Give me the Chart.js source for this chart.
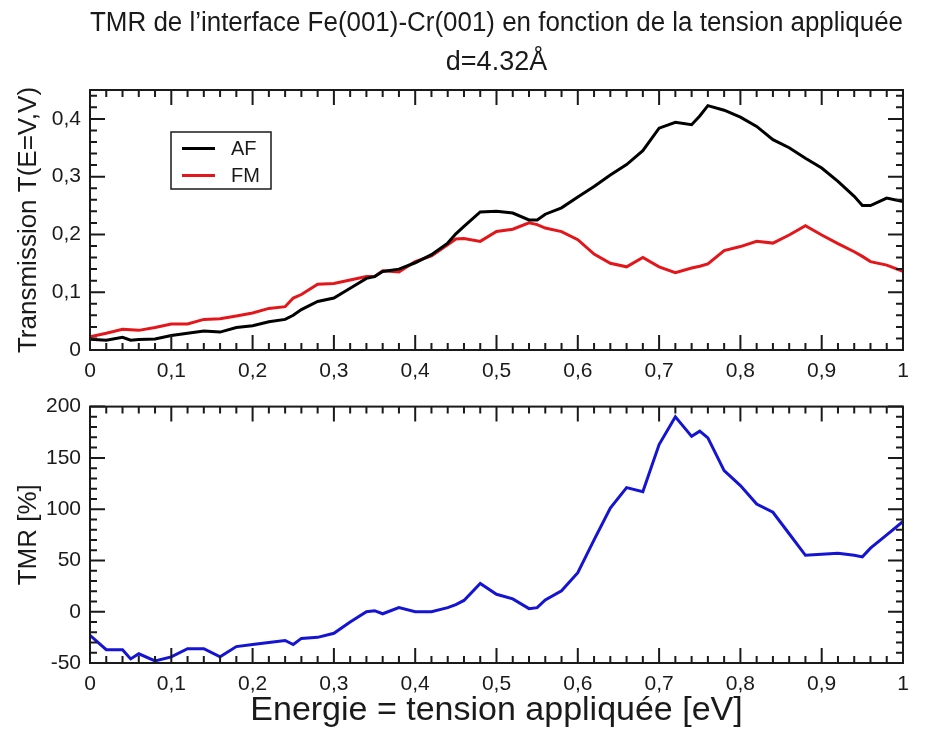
<!DOCTYPE html>
<html>
<head>
<meta charset="utf-8">
<script src="https://cdn.jsdelivr.net/npm/chart.js@4.4.0/dist/chart.umd.min.js"></script>
<style>
  html, body { margin: 0; padding: 0; background: #fff; }
  #wrap { position: relative; width: 929px; height: 731px; }
  canvas { position: absolute; left: 0; }
  #graficoT { top: 0; }
  #graficoTMR { top: 385px; }
</style>
</head>
<body>
<div id="wrap">
  <canvas id="graficoT" width="929" height="385"></canvas>
  <canvas id="graficoTMR" width="929" height="346"></canvas>
</div>
<script>
// Energie (eV) = tension appliquée
const energie = [0, 0.02, 0.04, 0.05, 0.06, 0.08, 0.1, 0.12, 0.14, 0.16, 0.18, 0.2, 0.22, 0.24, 0.25, 0.26, 0.28, 0.3,
  0.32, 0.34, 0.35, 0.36, 0.38, 0.4, 0.42, 0.44, 0.45, 0.46, 0.48, 0.5, 0.52, 0.54, 0.55, 0.56, 0.58, 0.6,
  0.62, 0.64, 0.66, 0.68, 0.7, 0.72, 0.74, 0.75, 0.76, 0.78, 0.8, 0.82, 0.84, 0.86, 0.88, 0.9,
  0.92, 0.94, 0.95, 0.96, 0.98, 1.0];

// Transmission T(E=V,V), configuration antiferro (AF)
const transAF = [0.0185, 0.017, 0.022, 0.017, 0.018, 0.019, 0.025, 0.029, 0.033, 0.031, 0.039, 0.042, 0.049, 0.053, 0.060, 0.070, 0.084, 0.090,
  0.107, 0.124, 0.127, 0.136, 0.140, 0.151, 0.165, 0.185, 0.201, 0.214, 0.239, 0.240, 0.237, 0.225, 0.225, 0.235, 0.246, 0.265,
  0.283, 0.303, 0.321, 0.345, 0.384, 0.394, 0.390, 0.405, 0.423, 0.415, 0.403, 0.387, 0.364, 0.350, 0.332, 0.315,
  0.292, 0.266, 0.250, 0.250, 0.263, 0.257];

// Transmission T(E=V,V), configuration ferro (FM)
const transFM = [0.023, 0.029, 0.036, 0.035, 0.034, 0.039, 0.045, 0.045, 0.053, 0.054, 0.059, 0.064, 0.072, 0.075, 0.090, 0.096, 0.114, 0.115,
  0.121, 0.127, 0.127, 0.137, 0.135, 0.153, 0.163, 0.182, 0.192, 0.193, 0.188, 0.205, 0.209, 0.220, 0.217, 0.211, 0.205, 0.191,
  0.166, 0.150, 0.144, 0.160, 0.144, 0.134, 0.142, 0.145, 0.149, 0.172, 0.179, 0.188, 0.185, 0.199, 0.215, 0.199,
  0.184, 0.170, 0.162, 0.153, 0.147, 0.136];

// TMR [%]
const tmr = [-23, -37, -37, -46, -41, -48, -44, -36, -36, -44, -34, -32, -30, -28, -32, -26, -25, -21,
  -10, 0, 1, -2, 4, 0, 0, 4, 7, 11, 27.5, 17, 12.5, 3, 4, 11.5, 20.5, 38,
  70, 101, 121, 117, 163, 190, 171, 176, 169.5, 137.5, 123, 105, 97, 76, 55, 56,
  57, 55, 53.5, 62, 75, 88];

const FONTE = "'Liberation Sans', Arial, Helvetica, sans-serif";
const ENCRE = '#1a1a1a';

Chart.defaults.font.family = FONTE;
Chart.defaults.color = ENCRE;

const virgule = v => String(Math.round(v * 100) / 100).replace('.', ',');

// Cadre et graduations vers l'intérieur, sur les quatre côtés (style xmgrace)
const cadre = {
  id: 'cadre',
  afterDraw(chart, args, opts) {
    const { ctx, chartArea: a, scales: { x, y } } = chart;
    ctx.save();
    ctx.strokeStyle = ENCRE;
    ctx.lineWidth = 2;
    ctx.beginPath();
    for (let i = 0; ; i++) {
      const v = opts.xMin + i * opts.xMinor;
      if (v > opts.xMax + 1e-9) break;
      const px = x.getPixelForValue(v);
      const len = i % opts.xEvery === 0 ? 15 : 7;
      ctx.moveTo(px, a.bottom); ctx.lineTo(px, a.bottom - len);
      ctx.moveTo(px, a.top); ctx.lineTo(px, a.top + len);
    }
    for (let i = 0; ; i++) {
      const v = opts.yMin + i * opts.yMinor;
      if (v > opts.yMax + 1e-9) break;
      const py = y.getPixelForValue(v);
      const len = i % opts.yEvery === 0 ? 15 : 7;
      ctx.moveTo(a.left, py); ctx.lineTo(a.left + len, py);
      ctx.moveTo(a.right, py); ctx.lineTo(a.right - len, py);
    }
    ctx.stroke();
    ctx.strokeRect(a.left, a.top, a.right - a.left, a.bottom - a.top);
    ctx.restore();
  }
};

// Légende encadrée dans la zone du graphe
const legende = {
  id: 'legende',
  afterDraw(chart) {
    const { ctx, chartArea: a } = chart;
    const x0 = a.left + 81, y0 = a.top + 42;
    ctx.save();
    ctx.fillStyle = '#fff';
    ctx.fillRect(x0, y0, 100, 57);
    ctx.strokeStyle = ENCRE;
    ctx.lineWidth = 1.5;
    ctx.strokeRect(x0, y0, 100, 57);
    chart.data.datasets.forEach((ds, i) => {
      const yy = y0 + 16.5 + i * 27;
      ctx.strokeStyle = ds.borderColor;
      ctx.lineWidth = 3;
      ctx.beginPath();
      ctx.moveTo(x0 + 11, yy);
      ctx.lineTo(x0 + 44, yy);
      ctx.stroke();
      ctx.fillStyle = ENCRE;
      ctx.font = '20px ' + FONTE;
      ctx.textBaseline = 'middle';
      ctx.fillText(ds.label, x0 + 60, yy + 1);
    });
    ctx.restore();
  }
};

const points = vals => energie.map((e, i) => ({ x: e, y: vals[i] }));

const axeX = (hauteur, titre) => ({
  type: 'linear',
  min: 0,
  max: 1,
  grid: { display: false, drawTicks: false },
  border: { display: false },
  ticks: {
    stepSize: 0.1,
    maxRotation: 0,
    padding: 9,
    font: { size: 21 },
    callback: v => virgule(v),
  },
  title: titre ? { display: true, text: titre, font: { size: 34 }, padding: { top: 0, bottom: 0 } } : { display: false },
  afterFit: s => { s.height = hauteur; },
});

const axeY = (min, max, pas, titre) => ({
  type: 'linear',
  min: min,
  max: max,
  grid: { display: false, drawTicks: false },
  border: { display: false },
  ticks: {
    stepSize: pas,
    includeBounds: false,
    padding: 9,
    font: { size: 21 },
    callback: v => virgule(v),
  },
  title: { display: true, text: titre, font: { size: 26 }, padding: { top: 13, bottom: 0 } },
  afterFit: s => { s.width = 90; },
});

new Chart(document.getElementById('graficoT'), {
  type: 'line',
  data: {
    datasets: [
      { label: 'AF', data: points(transAF), borderColor: '#000000', borderWidth: 3, pointRadius: 0, tension: 0 },
      { label: 'FM', data: points(transFM), borderColor: '#e3171b', borderWidth: 3, pointRadius: 0, tension: 0 },
    ],
  },
  options: {
    responsive: false,
    animation: false,
    devicePixelRatio: 1,
    layout: { padding: { left: 0, right: 26, top: 0, bottom: 0 } },
    scales: {
      x: axeX(35),
      y: axeY(0, 0.45, 0.1, 'Transmission T(E=V,V)'),
    },
    plugins: {
      legend: { display: false },
      tooltip: { enabled: false },
      title: {
        display: true,
        fullSize: false,
        text: ["TMR de l\u2019interface Fe(001)-Cr(001) en fonction de la tension appliquée", 'd=4.32Å'],
        font: { size: 27, weight: 'normal', lineHeight: 1.45 },
        color: ENCRE,
        padding: { top: 4, bottom: 7.7 },
      },
      cadre: { xMin: 0, xMax: 1, xMinor: 0.02, xEvery: 5, yMin: 0, yMax: 0.45, yMinor: 0.02, yEvery: 5 },
    },
  },
  plugins: [cadre, legende],
});

new Chart(document.getElementById('graficoTMR'), {
  type: 'line',
  data: {
    datasets: [
      { label: 'TMR', data: points(tmr), borderColor: '#1414d2', borderWidth: 3, pointRadius: 0, tension: 0 },
    ],
  },
  options: {
    responsive: false,
    animation: false,
    devicePixelRatio: 1,
    layout: { padding: { left: 0, right: 26, top: 18, bottom: 0 } },
    scales: {
      x: axeX(68, 'Energie = tension appliquée [eV]'),
      y: axeY(-50, 200, 50, 'TMR [%]'),
    },
    plugins: {
      legend: { display: false },
      tooltip: { enabled: false },
      cadre: { xMin: 0, xMax: 1, xMinor: 0.02, xEvery: 5, yMin: -50, yMax: 200, yMinor: 10, yEvery: 5 },
    },
  },
  plugins: [cadre],
});
</script>
</body>
</html>
